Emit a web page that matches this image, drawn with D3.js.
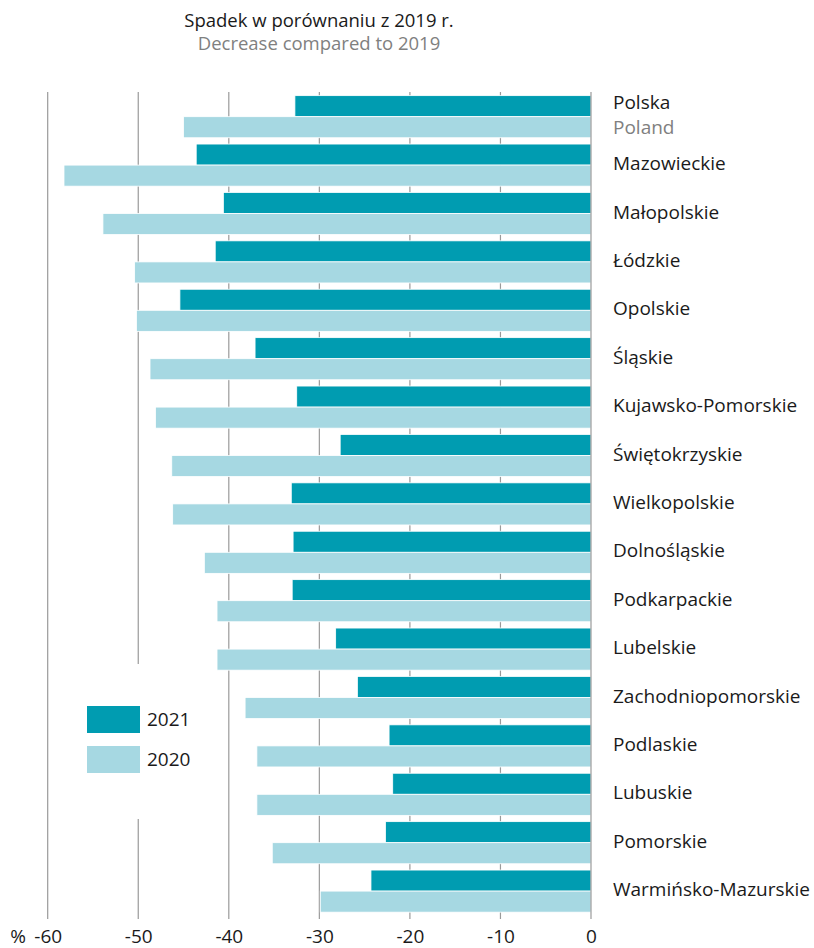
<!DOCTYPE html>
<html>
<head>
<meta charset="utf-8">
<script src="https://cdn.jsdelivr.net/npm/d3@7"></script>
<style>
  body { margin: 0; background: #fff; }
  svg text { font-family: "Open Sans", sans-serif; }
</style>
</head>
<body>
<svg id="chart"></svg>
<script>
const regions = ['Polska', 'Mazowieckie', 'Małopolskie', 'Łódzkie', 'Opolskie', 'Śląskie',
  'Kujawsko-Pomorskie', 'Świętokrzyskie', 'Wielkopolskie', 'Dolnośląskie', 'Podkarpackie',
  'Lubelskie', 'Zachodniopomorskie', 'Podlaskie', 'Lubuskie', 'Pomorskie', 'Warmińsko-Mazurskie'];
const values2021 = [-32.7, -43.6, -40.6, -41.5, -45.4, -37.1, -32.5, -27.7, -33.1, -32.9, -33.0,
  -28.2, -25.8, -22.3, -21.9, -22.7, -24.3];
const values2020 = [-45.0, -58.2, -53.9, -50.4, -50.2, -48.7, -48.1, -46.3, -46.2, -42.7, -41.3,
  -41.3, -38.2, -36.9, -36.9, -35.2, -29.9];
const years = ['2021', '2020'];
const xTicks = [-60, -50, -40, -30, -20, -10, 0];

const colors = {'2021': '#009cb1', '2020': '#a6d8e2'};
const width = 814, height = 948;

const svg = d3.select('#chart')
    .attr('width', width)
    .attr('height', height);

const x = d3.scaleLinear()
    .domain([-60, 0])
    .range([47.7, 591]);

const y = d3.scaleBand()
    .domain(regions)
    .range([92.5, 92.5 + regions.length * 48.4])
    .paddingInner(0.13)
    .paddingOuter(0.065);

const ySub = d3.scaleBand()
    .domain(years)
    .range([0, y.bandwidth()]);

const gridTop = 92, gridBottom = 919;

// gridlines (the -50 one leaves room for the legend)
const grid = svg.append('g').attr('stroke', '#9a9a9a').attr('stroke-width', 1.2);
xTicks.filter(d => d !== 0).forEach(d => {
    const segs = d === -50 ? [[gridTop, 664], [819, gridBottom]] : [[gridTop, gridBottom]];
    segs.forEach(s => {
        grid.append('line')
            .attr('x1', x(d)).attr('x2', x(d))
            .attr('y1', s[0]).attr('y2', s[1]);
    });
});

const rows = regions.map((r, i) => ({region: r, '2021': values2021[i], '2020': values2020[i]}));

const groups = svg.append('g')
    .selectAll('g')
    .data(rows)
    .join('g')
    .attr('transform', d => `translate(0,${y(d.region)})`);

groups.selectAll('rect')
    .data(d => years.map(k => ({key: k, value: d[k]})))
    .join('rect')
    .attr('x', d => x(d.value))
    .attr('y', d => ySub(d.key))
    .attr('width', d => x(0) - x(d.value))
    .attr('height', ySub.bandwidth())
    .attr('fill', d => colors[d.key])
    .attr('stroke', '#fff')
    .attr('stroke-width', 0.8);

// zero line on top
svg.append('line')
    .attr('x1', x(0)).attr('x2', x(0))
    .attr('y1', gridTop).attr('y2', gridBottom)
    .attr('stroke', '#9a9a9a')
    .attr('stroke-width', 1.2);

// region labels
const labels = svg.append('g').attr('font-size', 19).attr('fill', '#1a1a1a');
regions.forEach(r => {
    const cy = y(r) + y.bandwidth() / 2;
    if (r === 'Polska') {
        labels.append('text').attr('x', 613).attr('y', cy - 12.5)
            .attr('dominant-baseline', 'middle').text('Polska');
        labels.append('text').attr('x', 613).attr('y', cy + 12.5)
            .attr('dominant-baseline', 'middle').attr('fill', '#808080').text('Poland');
    } else {
        labels.append('text').attr('x', 613).attr('y', cy)
            .attr('dominant-baseline', 'middle').text(r);
    }
});

// x axis labels
const xAxis = d3.axisBottom(x)
    .tickValues(xTicks)
    .tickSize(0)
    .tickPadding(0)
    .tickFormat(d => String(d));

const axisG = svg.append('g')
    .attr('transform', 'translate(0,943)')
    .call(xAxis);
axisG.select('.domain').remove();
axisG.selectAll('text')
    .attr('dy', 0)
    .attr('font-size', 19)
    .attr('font-family', '"Open Sans", sans-serif')
    .attr('fill', '#1a1a1a');

svg.append('text')
    .attr('x', 26).attr('y', 943)
    .attr('text-anchor', 'end')
    .attr('font-size', 19)
    .attr('fill', '#1a1a1a')
    .text('%');

// title
svg.append('text')
    .attr('x', 319).attr('y', 27)
    .attr('text-anchor', 'middle')
    .attr('font-size', 18.5)
    .attr('fill', '#1a1a1a')
    .text('Spadek w porównaniu z 2019 r.');
svg.append('text')
    .attr('x', 319).attr('y', 50)
    .attr('text-anchor', 'middle')
    .attr('font-size', 18.5)
    .attr('fill', '#808080')
    .text('Decrease compared to 2019');

// legend
const legend = svg.append('g');
years.forEach((k, i) => {
    legend.append('rect')
        .attr('x', 87).attr('y', 706 + i * 40)
        .attr('width', 53).attr('height', 27)
        .attr('fill', colors[k]);
    legend.append('text')
        .attr('x', 147).attr('y', 726 + i * 40)
        .attr('font-size', 19)
        .attr('fill', '#1a1a1a')
        .text(k);
});
</script>
</body>
</html>
